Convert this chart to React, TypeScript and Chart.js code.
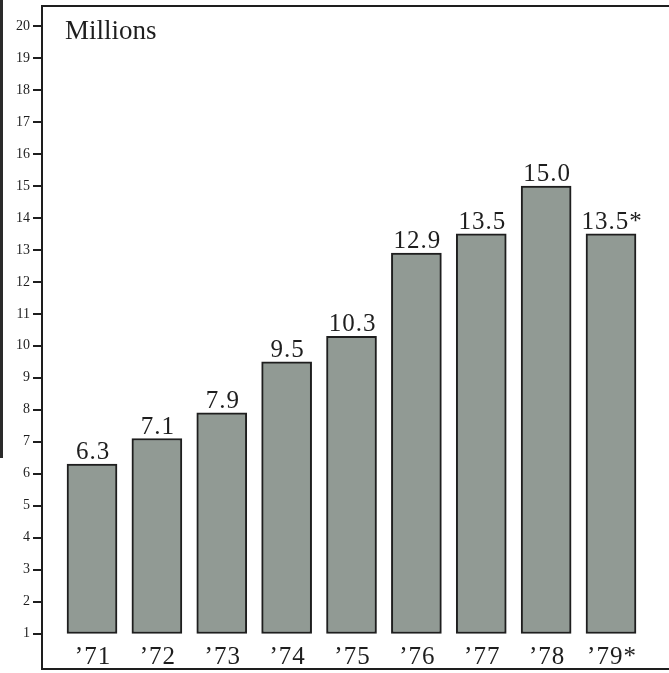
import React, { useEffect, useRef } from "react";
import { Chart, registerables } from "chart.js";

Chart.register(...registerables);

const categories = ["\u201971", "\u201972", "\u201973", "\u201974", "\u201975", "\u201976", "\u201977", "\u201978", "\u201979*"];
const values = [6.3, 7.1, 7.9, 9.5, 10.3, 12.9, 13.5, 15.0, 13.5];
const valueLabels = ["6.3", "7.1", "7.9", "9.5", "10.3", "12.9", "13.5", "15.0", "13.5*"];
const yTickValues = [1, 2, 3, 4, 5, 6, 7, 8, 9, 10, 11, 12, 13, 14, 15, 16, 17, 18, 19, 20];
const baseValue = 1;
const unitLabel = "Millions";

const SERIF = "'Liberation Serif', 'DejaVu Serif', serif";
const INK = "#1e1e1e";

export default function App() {
  const canvasRef = useRef<HTMLCanvasElement | null>(null);

  useEffect(() => {
    const canvas = canvasRef.current;
    if (!canvas) return;

    const overlay = {
      id: "overlay",
      afterDraw(chart: any) {
        const ctx = chart.ctx as CanvasRenderingContext2D;
        const area = chart.chartArea;
        const xs = chart.scales.x;
        const ys = chart.scales.y;
        ctx.save();
        // top frame line
        ctx.strokeStyle = INK;
        ctx.lineWidth = 2;
        ctx.beginPath();
        ctx.moveTo(area.left - 1, area.top);
        ctx.lineTo(area.right, area.top);
        ctx.stroke();
        // page edge strip (scan)
        ctx.lineWidth = 3;
        ctx.strokeStyle = "#2a2a2a";
        ctx.beginPath();
        ctx.moveTo(1.5, 0);
        ctx.lineTo(1.5, 458);
        ctx.stroke();

        ctx.fillStyle = INK;
        // unit label
        ctx.font = `27px ${SERIF}`;
        ctx.textAlign = "left";
        ctx.textBaseline = "alphabetic";
        ctx.fillText(unitLabel, 65, 39);

        // value labels
        (ctx as any).letterSpacing = "1px";
        ctx.font = `25px ${SERIF}`;
        ctx.textAlign = "center";
        values.forEach((v, i) => {
          const px = xs.getPixelForValue(i);
          const py = ys.getPixelForValue(v);
          ctx.fillText(valueLabels[i], px + 1, py - 5);
        });

        // category labels
        ctx.font = `25px ${SERIF}`;
        categories.forEach((c, i) => {
          const px = xs.getPixelForValue(i);
          ctx.fillText(c, px + 1, 664);
        });
        ctx.restore();
      },
    };

    const chart = new Chart(canvas, {
      type: "bar",
      data: {
        datasets: [
          {
            data: values.map((v, i) => ({ x: i, y: [baseValue, v] })) as any,
            backgroundColor: "#919a94",
            borderColor: INK,
            borderWidth: 2,
            borderSkipped: false,
            barThickness: 50,
          },
        ],
      },
      options: {
        responsive: false,
        animation: false,
        events: [],
        layout: { padding: { top: 6, bottom: 4, left: 0, right: 0 } },
        plugins: {
          legend: { display: false },
          tooltip: { enabled: false },
          title: { display: false },
        },
        scales: {
          x: {
            type: "linear",
            offset: false,
            min: -0.771,
            max: 8.894,
            grid: { display: false, offset: false },
            ticks: { display: false },
            border: { display: true, color: INK, width: 2 },
            afterFit(scale: any) {
              scale.height = 0;
              scale.paddingLeft = 0;
              scale.paddingRight = 0;
            },
          },
          y: {
            type: "linear",
            min: -0.11,
            max: 20.63,
            afterBuildTicks(scale: any) {
              scale.ticks = yTickValues.map((v) => ({ value: v }));
            },
            afterFit(scale: any) {
              scale.width = 42;
              scale.paddingTop = 0;
              scale.paddingBottom = 0;
            },
            grid: {
              display: true,
              drawOnChartArea: false,
              drawTicks: true,
              tickLength: 9,
              color: INK,
              lineWidth: 2,
            },
            border: { display: true, color: INK, width: 2 },
            ticks: {
              color: INK,
              padding: 3,
              font: { family: SERIF, size: 14 },
              callback: (v: any) => String(v),
            },
          },
        },
      },
      plugins: [overlay],
    });

    return () => chart.destroy();
  }, []);

  return (
    <div style={{ position: "fixed", left: 0, top: 0, width: 669, height: 673, background: "#fff" }}>
      <canvas ref={canvasRef} width={669} height={673} style={{ width: 669, height: 673, display: "block" }} />
    </div>
  );
}
